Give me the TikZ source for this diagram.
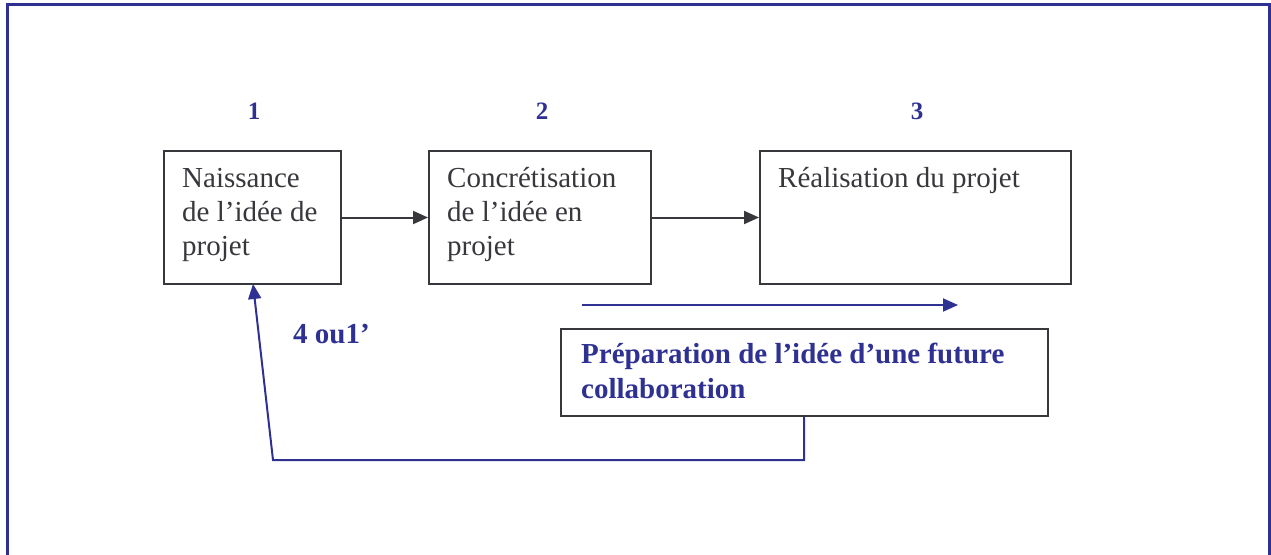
\documentclass[tikz,border=0pt]{standalone}
\usepackage{fontspec}
\setmainfont{Liberation Serif}
\usetikzlibrary{arrows.meta}
\definecolor{dblue}{RGB}{46,49,146}
\definecolor{dgray}{RGB}{55,55,60}
\tikzset{
  box/.style={draw=dgray, line width=2pt, inner sep=0pt, anchor=north west},
  txt/.style={text=dgray, inner sep=0pt, anchor=base west, align=left, font=\fontsize{29}{34}\selectfont},
  btxt/.style={text=dblue, inner sep=0pt, anchor=base west, align=left, font=\fontsize{29}{35}\selectfont\bfseries},
  numtxt/.style={text=dblue, inner sep=0pt, anchor=base, font=\fontsize{25}{30}\selectfont\bfseries},
  garrow/.style={draw=dgray, line width=2pt, -{Triangle[length=15pt,width=13pt]}},
  barrow/.style={draw=dblue, line width=2pt, -{Triangle[length=15pt,width=13pt]}},
}
\begin{document}
\begin{tikzpicture}[x=1pt,y=-1pt]
\useasboundingbox (0,0) rectangle (1271,554);
% outer frame (bottom edge outside picture)
\draw[dblue, line width=3pt] (7,560) -- (7,4) -- (1269,4) -- (1269,560);
% boxes
\node[box, minimum width=177pt, minimum height=133pt] (b1) at (163,150) {};
\node[box, minimum width=222pt, minimum height=133pt] (b2) at (428,150) {};
\node[box, minimum width=311pt, minimum height=133pt] (b3) at (759,150) {};
\node[box, minimum width=487pt, minimum height=87pt] (b4) at (560,328) {};
% texts (base anchor = last line baseline)
\node[txt] (t1) at (182,255) {Naissance\\de l’idée de\\projet};
\node[txt] (t2) at (447,255) {Concrétisation\\de l’idée en\\projet};
\node[txt] (t3) at (778,187) {Réalisation du projet};
\node[btxt] (t4) at (581,398) {Préparation de l’idée d’une future\\collaboration};
% numbers
\node[numtxt] (n1) at (254,119) {1};
\node[numtxt] (n2) at (542,119) {2};
\node[numtxt] (n3) at (917,119) {3};
\node[btxt] (n4) at (293,343) {4 ou1’};
% arrows
\draw[garrow] (b1.east) -- (b2.west);
\draw[garrow] (b2.east) -- (b3.west);
\coordinate (pa) at (582,305);
\coordinate (pb) at (958,305);
\draw[barrow] (pa) -- (pb);
\coordinate (fb) at (804,460);
\coordinate (fc) at (273,460);
\coordinate (fd) at (253,284);
\draw[barrow] (b4.south -| fb) -- (fb) -- (fc) -- (fd);
\end{tikzpicture}
\end{document}
